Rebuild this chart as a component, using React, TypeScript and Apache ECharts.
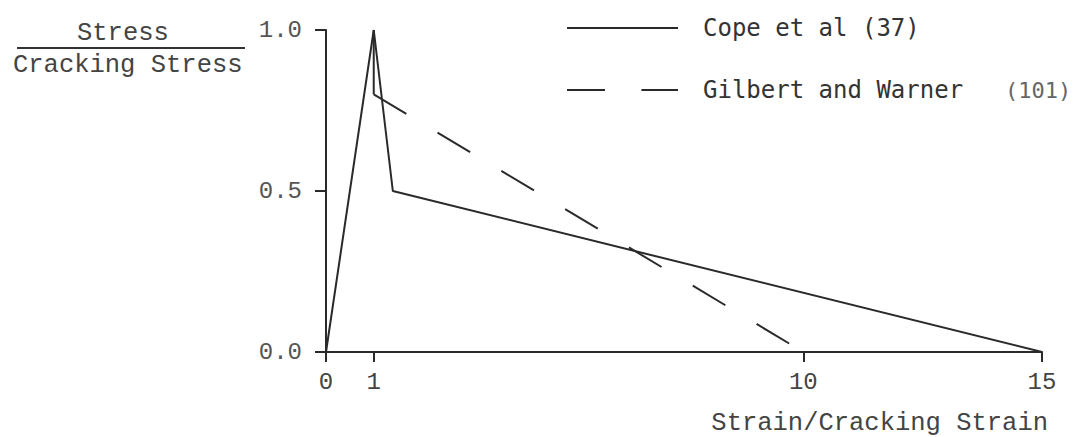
import React, { useEffect, useRef } from "react";
import * as echarts from "echarts";

const copeData: [number, number][] = [
  [0, 0],
  [1, 1.0],
  [1.4, 0.5],
  [15, 0],
];
const gilbertPeak: [number, number][] = [
  [1, 1.0],
  [1, 0.8],
];
const gilbertData: [number, number][] = [
  [1, 0.8],
  [10, 0],
];
const xTicks = [0, 1, 10, 15];
const seriesNames = ["Cope et al (37)", "Gilbert and Warner"];
const gilbertRef = "(101)";
const yTitleTop = "Stress";
const yTitleBottom = "Cracking Stress";
const xTitle = "Strain/Cracking Strain";

const INK = "#2a2a2a";
const MONO = "'Liberation Mono', 'DejaVu Sans Mono', monospace";
const SANSMONO = "'DejaVu Sans Mono', monospace";

export default function App() {
  const ref = useRef<HTMLDivElement>(null);
  useEffect(() => {
    if (!ref.current) return;
    const chart = echarts.init(ref.current, undefined, { renderer: "svg" });
    chart.setOption({
      animation: false,
      backgroundColor: "#ffffff",
      grid: { left: 326, right: 42, top: 30, bottom: 85, outerBoundsMode: "none", containLabel: false },
      legend: {
        orient: "vertical",
        left: 566,
        top: 13,
        padding: 0,
        itemWidth: 111,
        itemHeight: 14,
        itemGap: 32,
        data: seriesNames,
        itemStyle: { opacity: 0, borderWidth: 0 },
        formatter: (name: string) =>
          name === seriesNames[1] ? `{a|${name}}{b|${gilbertRef}}` : `{a|${name}}`,
        textStyle: {
          padding: [0, 0, 0, 20],
          lineHeight: 30,
          rich: {
            a: { fontFamily: SANSMONO, fontSize: 24, color: "#333", lineHeight: 30 },
            b: { fontFamily: SANSMONO, fontSize: 22, color: "#666", lineHeight: 30, padding: [0, 0, 0, 42] },
          },
        },
      },
      xAxis: {
        type: "value",
        min: 0,
        max: 15,
        axisLine: { show: true, onZero: false, lineStyle: { color: INK, width: 2 } },
        axisTick: { show: true, length: 10, customValues: xTicks, lineStyle: { color: INK, width: 2 } },
        axisLabel: {
          customValues: xTicks,
          margin: 18,
          fontFamily: MONO,
          fontSize: 24,
          color: "#444",
        },
        splitLine: { show: false },
      },
      yAxis: {
        type: "value",
        min: 0,
        max: 1,
        interval: 0.5,
        axisLine: { show: true, lineStyle: { color: INK, width: 2 } },
        axisTick: { show: true, length: 11, lineStyle: { color: INK, width: 2 } },
        axisLabel: {
          margin: 24,
          fontFamily: MONO,
          fontSize: 24,
          color: "#555",
          formatter: (v: number) => v.toFixed(1),
        },
        splitLine: { show: false },
      },
      series: [
        {
          name: seriesNames[0],
          type: "line",
          data: copeData,
          symbol: "none",
          lineStyle: { color: INK, width: 2 },
          itemStyle: { color: INK },
        },
        {
          name: "Gilbert and Warner peak",
          type: "line",
          data: gilbertPeak,
          symbol: "none",
          lineStyle: { color: INK, width: 2 },
          itemStyle: { color: INK },
        },
        {
          name: seriesNames[1],
          type: "line",
          data: gilbertData,
          symbol: "none",
          lineStyle: { color: INK, width: 2, type: [38, 36.4] },
          itemStyle: { color: INK },
        },
      ],
      graphic: [
        {
          type: "text",
          left: 77,
          top: 20,
          style: { text: yTitleTop, font: `25.5px ${MONO}`, fill: "#444" },
        },
        {
          type: "line",
          shape: { x1: 17, y1: 48, x2: 245, y2: 48 },
          style: { stroke: "#333", lineWidth: 2 },
        },
        {
          type: "text",
          left: 13,
          top: 52,
          style: { text: yTitleBottom, font: `25.5px ${MONO}`, fill: "#444" },
        },
        {
          type: "text",
          right: 36,
          top: 410,
          style: { text: xTitle, font: `25.5px ${MONO}`, fill: "#444" },
        },
      ],
    });
    return () => chart.dispose();
  }, []);
  return (
    <div
      ref={ref}
      style={{ position: "absolute", left: 0, top: 0, width: 1084, height: 437 }}
    />
  );
}
